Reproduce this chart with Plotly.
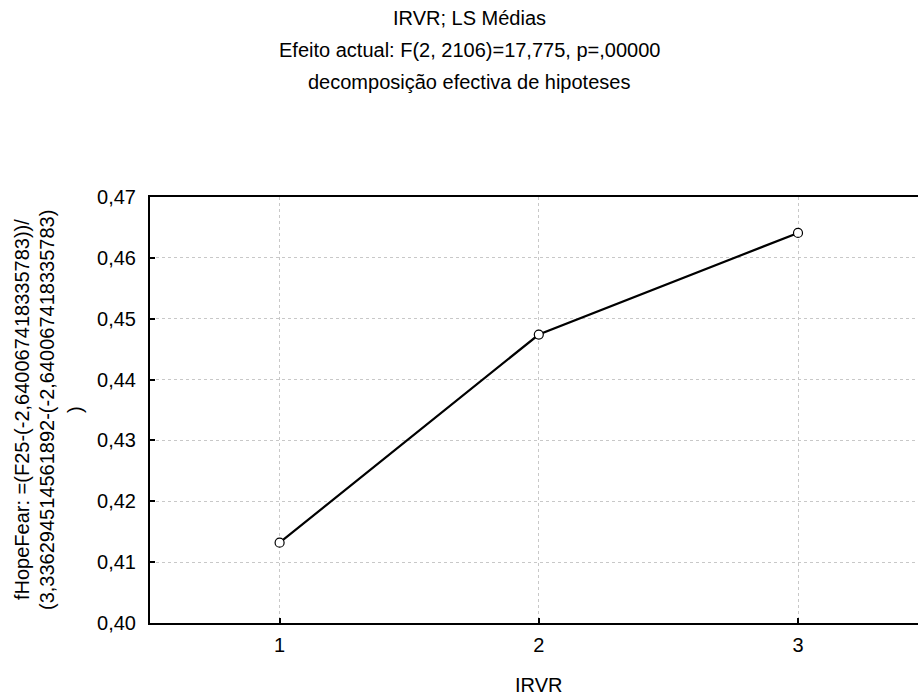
import plotly.graph_objects as go

categories = [1, 2, 3]
ls_means = [0.4132, 0.4474, 0.4641]
x_tick_vals = [1, 2, 3]
x_tick_text = ["1", "2", "3"]
y_tick_vals = [0.40, 0.41, 0.42, 0.43, 0.44, 0.45, 0.46, 0.47]

title_lines = [
    "IRVR; LS Médias",
    "Efeito actual: F(2, 2106)=17,775, p=,00000",
    "decomposição efectiva de hipoteses",
]
y_title_lines = [
    "fHopeFear: =(F25-(-2,640067418335783))/",
    "(3,336294514561892-(-2,640067418335783)",
    ")",
]
x_title = "IRVR"

W, H = 918, 697
L, R, T, B = 150, 0, 197, 74
plot_w = W - L - R
plot_h = H - T - B
FONT = "Liberation Sans, Arial, sans-serif"
FS = 20

def px_to_paper_x(px):
    return (px - L) / plot_w

def px_to_paper_y(py):
    return (H - B - py) / plot_h

fig = go.Figure()
fig.add_trace(go.Scatter(
    x=categories, y=ls_means, mode="lines+markers",
    line=dict(color="black", width=2.2),
    marker=dict(symbol="circle", size=9, color="white",
                line=dict(color="black", width=1.2)),
    showlegend=False, cliponaxis=False,
))

annotations = []
for i, t in enumerate(title_lines):
    annotations.append(dict(
        text=t, x=px_to_paper_x(469), y=px_to_paper_y(18 + 32 * i),
        xref="paper", yref="paper", xanchor="center", yanchor="middle",
        showarrow=False, font=dict(family=FONT, size=FS, color="black")))
y_title_x = [22, 47, 75]
for t, px in zip(y_title_lines, y_title_x):
    annotations.append(dict(
        text=t, x=px_to_paper_x(px), y=0.5,
        xref="paper", yref="paper", xanchor="center", yanchor="middle",
        textangle=-90, showarrow=False,
        font=dict(family=FONT, size=FS, color="black")))
annotations.append(dict(
    text=x_title, x=px_to_paper_x(538), y=px_to_paper_y(685),
    xref="paper", yref="paper", xanchor="center", yanchor="middle",
    showarrow=False, font=dict(family=FONT, size=FS, color="black")))

fig.update_layout(
    width=W, height=H,
    margin=dict(l=L, r=R, t=T, b=B, pad=0),
    paper_bgcolor="white", plot_bgcolor="white",
    separators=",.",
    font=dict(family=FONT, size=FS, color="black"),
    annotations=annotations,
    xaxis=dict(
        range=[0.5, 0.5 + plot_w / 259.2],
        tickmode="array", tickvals=x_tick_vals, ticktext=x_tick_text,
        ticks="inside", ticklen=5, tickwidth=2, tickcolor="black",
        showline=True, linecolor="black", linewidth=2, mirror=True,
        showgrid=True, gridcolor="#c8c8c8", griddash="dot", gridwidth=1,
        zeroline=False, ticklabelstandoff=3,
        tickfont=dict(family=FONT, size=FS, color="black"),
    ),
    yaxis=dict(
        range=[0.40, 0.47],
        tickmode="array", tickvals=y_tick_vals, tickformat=".2f",
        ticks="inside", ticklen=5, tickwidth=2, tickcolor="black",
        showline=True, linecolor="black", linewidth=2,
        showgrid=True, gridcolor="#c8c8c8", griddash="dot", gridwidth=1,
        zeroline=False, ticklabelstandoff=8,
        tickfont=dict(family=FONT, size=FS, color="black"),
    ),
)

fig.write_html("out.html")
